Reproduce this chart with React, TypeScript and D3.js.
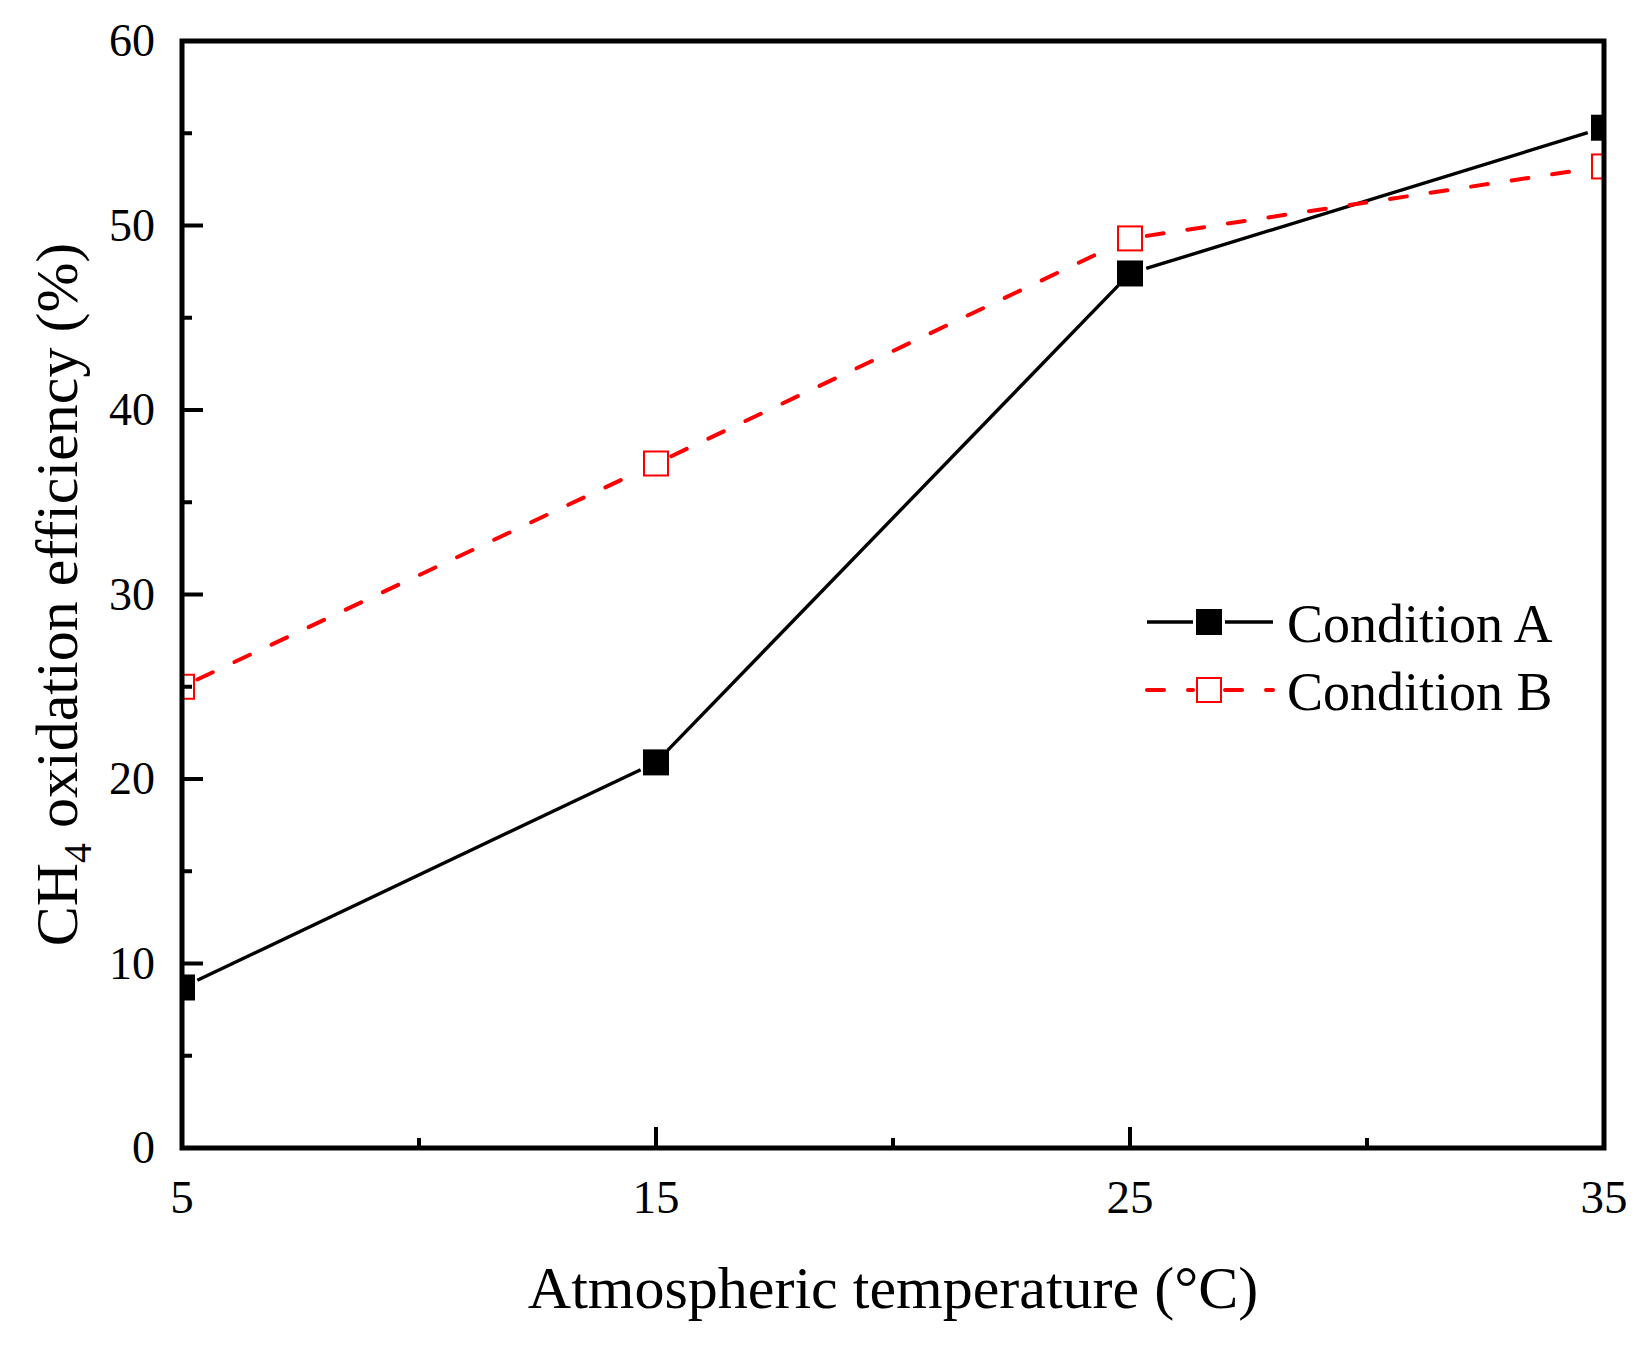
import React, { useRef, useEffect } from 'react';
import * as d3 from 'd3';

// data
const temperatures = [5, 15, 25, 35];
const conditionA = [8.7, 20.9, 47.4, 55.3];
const conditionB = [25.0, 37.1, 49.3, 53.2];
const seriesNames = ['Condition A', 'Condition B'];
const xTicks = [5, 15, 25, 35];
const xMinorTicks = [10, 20, 30];
const yTicks = [0, 10, 20, 30, 40, 50, 60];
const yMinorTicks = [5, 15, 25, 35, 45, 55];

const W = 1650;
const H = 1346;
const FONT = '"Liberation Serif", "Times New Roman", serif';

const Chart: React.FC = () => {
  const svgRef = useRef<SVGSVGElement | null>(null);

  useEffect(() => {
    const svg = d3.select(svgRef.current);
    svg.selectAll('*').remove();

    const left = 182, right = 1604, top = 41, bottom = 1148;
    const x = d3.scaleLinear().domain([5, 35]).range([left, right]);
    const y = d3.scaleLinear().domain([0, 60]).range([bottom, top]);

    svg.append('rect').attr('width', W).attr('height', H).attr('fill', '#fff');

    svg.append('defs').append('clipPath').attr('id', 'plotclip')
      .append('rect')
      .attr('x', left).attr('y', top)
      .attr('width', right - left).attr('height', bottom - top);

    const plot = svg.append('g').attr('clip-path', 'url(#plotclip)');

    const markerSize = 26;
    const trim = 17;

    const series = [
      { values: conditionA, color: '#000', dash: null as string | null, filled: true, width: 3.4 },
      { values: conditionB, color: '#ff0000', dash: '17,24', filled: false, width: 4 },
    ];

    // draw each segment separately, stopping short of markers
    const drawSeg = (g: any, x1: number, y1: number, x2: number, y2: number, s: any) => {
      const dx = x2 - x1, dy = y2 - y1;
      const len = Math.sqrt(dx * dx + dy * dy);
      const ux = dx / len, uy = dy / len;
      const line = g.append('line')
        .attr('x1', x1 + ux * trim).attr('y1', y1 + uy * trim)
        .attr('x2', x2 - ux * trim).attr('y2', y2 - uy * trim)
        .attr('stroke', s.color)
        .attr('stroke-width', s.width);
      if (s.dash) line.attr('stroke-dasharray', s.dash).attr('stroke-linecap', 'round');
    };

    const drawMarker = (g: any, cx: number, cy: number, s: any) => {
      const half = markerSize / 2;
      if (s.filled) {
        g.append('rect')
          .attr('x', cx - half).attr('y', cy - half)
          .attr('width', markerSize).attr('height', markerSize)
          .attr('fill', s.color);
      } else {
        g.append('rect')
          .attr('x', cx - half + 1).attr('y', cy - half + 1)
          .attr('width', markerSize - 2).attr('height', markerSize - 2)
          .attr('fill', '#fff')
          .attr('stroke', s.color)
          .attr('stroke-width', 2);
      }
    };

    series.forEach((s) => {
      const pts = temperatures.map((t, i) => [x(t), y(s.values[i])]);
      for (let i = 0; i < pts.length - 1; i++) {
        drawSeg(plot, pts[i][0], pts[i][1], pts[i + 1][0], pts[i + 1][1], s);
      }
    });
    series.forEach((s) => {
      temperatures.forEach((t, i) => drawMarker(plot, x(t), y(s.values[i]), s));
    });

    // axes frame
    const axisW = 5;
    svg.append('rect')
      .attr('x', left).attr('y', top)
      .attr('width', right - left).attr('height', bottom - top)
      .attr('fill', 'none')
      .attr('stroke', '#000')
      .attr('stroke-width', axisW);

    // ticks (inward)
    const majorLen = 21, minorLen = 10;
    xTicks.forEach((t) => {
      svg.append('line').attr('x1', x(t)).attr('x2', x(t))
        .attr('y1', bottom).attr('y2', bottom - majorLen)
        .attr('stroke', '#000').attr('stroke-width', 4);
      svg.append('text')
        .attr('x', x(t)).attr('y', 1213)
        .attr('text-anchor', 'middle')
        .attr('font-family', FONT).attr('font-size', 47)
        .text(t);
    });
    xMinorTicks.forEach((t) => {
      svg.append('line').attr('x1', x(t)).attr('x2', x(t))
        .attr('y1', bottom).attr('y2', bottom - minorLen)
        .attr('stroke', '#000').attr('stroke-width', 4);
    });
    yTicks.forEach((t) => {
      svg.append('line').attr('x1', left).attr('x2', left + majorLen)
        .attr('y1', y(t)).attr('y2', y(t))
        .attr('stroke', '#000').attr('stroke-width', 4);
      svg.append('text')
        .attr('x', 155).attr('y', y(t) + 15)
        .attr('text-anchor', 'end')
        .attr('font-family', FONT).attr('font-size', 46)
        .text(t);
    });
    yMinorTicks.forEach((t) => {
      svg.append('line').attr('x1', left).attr('x2', left + minorLen)
        .attr('y1', y(t)).attr('y2', y(t))
        .attr('stroke', '#000').attr('stroke-width', 4);
    });

    // axis titles
    svg.append('text')
      .attr('x', (left + right) / 2).attr('y', 1308)
      .attr('text-anchor', 'middle')
      .attr('font-family', FONT).attr('font-size', 60)
      .text('Atmospheric temperature (°C)');

    const yTitle = svg.append('text')
      .attr('transform', `translate(77,${(top + bottom) / 2}) rotate(-90)`)
      .attr('text-anchor', 'middle')
      .attr('font-family', FONT).attr('font-size', 60);
    yTitle.append('tspan').text('CH');
    yTitle.append('tspan').attr('font-size', 40).attr('dy', 14).text('4');
    yTitle.append('tspan').attr('dy', -14).text(' oxidation efficiency (%)');

    // legend
    const legX1 = 1147, legX2 = 1273, legMid = 1209;
    series.forEach((s, i) => {
      const ly = 622 + i * 68;
      const g = svg.append('g');
      const gap = markerSize / 2 + 3;
      [[legX1, legMid - gap], [legMid + gap, legX2]].forEach(([a, b]) => {
        const l = g.append('line')
          .attr('x1', a).attr('x2', b).attr('y1', ly).attr('y2', ly)
          .attr('stroke', s.color).attr('stroke-width', s.width);
        if (s.dash) l.attr('stroke-dasharray', s.dash).attr('stroke-linecap', 'round');
      });
      drawMarker(g, legMid, ly, s);
      g.append('text')
        .attr('x', 1287).attr('y', ly + 20)
        .attr('font-family', FONT).attr('font-size', 54)
        .text(seriesNames[i]);
    });
  }, []);

  return <svg ref={svgRef} width={W} height={H} style={{ position: 'absolute', left: 0, top: 0 }} />;
};

export default function App() {
  return <Chart />;
}
